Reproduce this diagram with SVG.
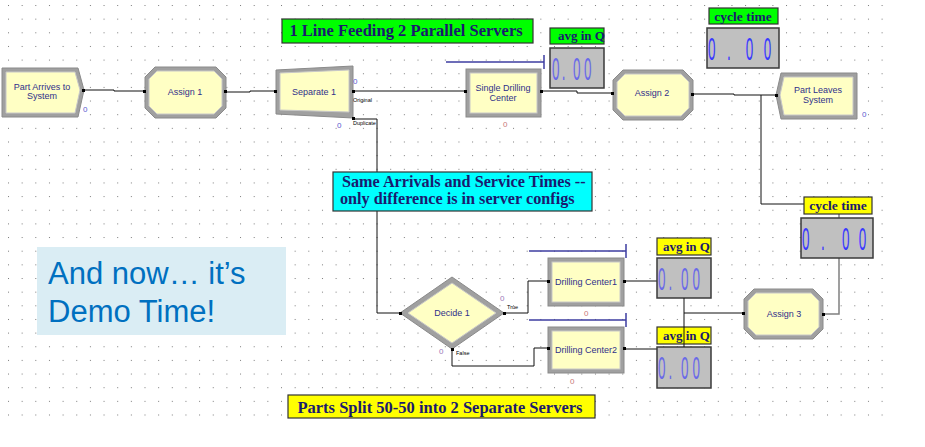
<svg xmlns="http://www.w3.org/2000/svg" width="925" height="447" viewBox="0 0 925 447">
<style>
.bev{fill:#a0a0a0;stroke:#8a8a8a;stroke-width:1}
.in{fill:#ffffc4;stroke:#c8c8c8;stroke-width:1}
.mt{font-family:"Liberation Sans",Arial,sans-serif;font-size:9px;fill:#30308a;text-anchor:middle}
.cnt{font-family:"Liberation Sans",Arial,sans-serif;font-size:8px;fill:#5a5ad0}
.cntp{font-family:"Liberation Sans",Arial,sans-serif;font-size:8px;fill:#c87878}
.lbl{font-family:"Liberation Sans",Arial,sans-serif;font-size:5.5px;fill:#000}
.conn{fill:none;stroke:#111;stroke-width:1}
.conng{fill:none;stroke:#808080;stroke-width:1.5}
.q{fill:none;stroke:#3c3ca0;stroke-width:1.5}
.ttl{font-family:"Liberation Serif","Times New Roman",serif;font-weight:bold;fill:#1a1a6e}
.disp{fill:#c0c0c0;stroke:#3a3a3a;stroke-width:1.5}
.dig{font-family:"Liberation Sans",Arial,sans-serif;font-size:32px;fill:#3a3aff}
.green{fill:#00ff00;stroke:#333;stroke-width:1.2}
.yellow{fill:#ffff00;stroke:#333;stroke-width:1.2}
.dot{fill:#000}
</style>
<defs>
<pattern id="grid" patternUnits="userSpaceOnUse" x="8" y="5" width="13.65" height="13.65">
<rect x="0" y="0" width="1" height="1" fill="#7a7a7a"/>
</pattern>
</defs>
<rect width="925" height="447" fill="#ffffff"/>
<rect x="0" y="0" width="892" height="425" fill="url(#grid)"/>

<g id="connectors">
<polyline class="conn" points="83,90 114,90 114,91 145,91"/>
<polyline class="conn" points="226,92 250,92 250,91 276,91"/>
<polyline class="conn" points="353,91 466,91"/>
<polyline class="conn" points="354,119 377,119 377,313 400,313"/>
<polyline class="conn" points="541,91 577,91 577,93 613,93"/>
<polyline class="conn" points="693,94 734,94 734,95 776,95"/>
<polyline class="conn" points="761,95 761,204 804,204"/>
<polyline class="conn" points="503,313 528,313 528,281 548,281"/>
<polyline class="conn" points="452,349 452,366 534,366 534,348 548,348"/>
<polyline class="conn" points="624,281 657,281"/>
<polyline class="conn" points="624,349 657,349"/>
<polyline class="conn" points="684,313 744,313"/>
<polyline class="conng" points="823,314 839,314 839,258"/>
<line class="conng" x1="839" y1="214" x2="839" y2="218"/>
<line class="q" x1="446" y1="62" x2="544" y2="62"/>
<line class="q" x1="544" y1="55" x2="544" y2="69"/>
<line class="q" x1="529" y1="251" x2="626" y2="251"/>
<line class="q" x1="626" y1="244" x2="626" y2="258"/>
<line class="q" x1="529" y1="320" x2="626" y2="320"/>
<line class="q" x1="626" y1="313" x2="626" y2="327"/>
</g>

<g id="part-arrives">
<polygon class="bev" points="2,68 78,68 84,90 78,117 2,117"/>
<polygon class="in" points="6,72 75,72 80,90 75,113 6,113"/>
<text class="mt" x="42" y="90">Part Arrives to</text>
<text class="mt" x="42" y="99">System</text>
<text class="cnt" x="83" y="112">0</text>
<rect class="dot" x="82" y="89" width="3" height="3"/>
</g>

<g id="assign1">
<polygon class="bev" points="155,67 216,67 226,77 226,108 216,118 155,118 145,108 145,77"/>
<polygon class="in" points="157,71 214,71 222,79 222,106 214,114 157,114 149,106 149,79"/>
<text class="mt" x="185" y="95">Assign 1</text>
<rect class="dot" x="143" y="90" width="3" height="3"/>
<rect class="dot" x="224" y="90" width="3" height="3"/>
</g>

<g id="separate1">
<polygon class="bev" points="276,70 353,66 353,118 276,114"/>
<polygon class="in" points="280,73 349,70 349,112 280,110"/>
<text class="mt" x="314" y="95">Separate 1</text>
<rect class="dot" x="274" y="90" width="3" height="3"/>
<rect class="dot" x="352" y="90" width="3" height="3"/>
<rect class="dot" x="352" y="117" width="3" height="3"/>
<text class="cnt" x="353" y="84">0</text>
<text class="lbl" x="353" y="102">Original</text>
<text class="lbl" x="353" y="125">Duplicate</text>
<text class="cnt" x="337" y="128">0</text>
</g>

<g id="single-drilling">
<rect class="bev" x="466" y="69" width="75" height="48"/>
<rect class="in" x="470" y="73" width="67" height="40"/>
<text class="mt" x="503" y="91">Single Drilling</text>
<text class="mt" x="503" y="101">Center</text>
<text class="cntp" x="503" y="127">0</text>
<rect class="dot" x="464" y="90" width="3" height="3"/>
<rect class="dot" x="540" y="90" width="3" height="3"/>
</g>

<g id="assign2">
<polygon class="bev" points="623,70 683,70 693,80 693,110 683,120 623,120 613,110 613,80"/>
<polygon class="in" points="625,74 681,74 689,82 689,108 681,116 625,116 617,108 617,82"/>
<text class="mt" x="652" y="96">Assign 2</text>
<rect class="dot" x="611" y="92" width="3" height="3"/>
<rect class="dot" x="691" y="93" width="3" height="3"/>
</g>

<g id="part-leaves">
<polygon class="bev" points="781,73 857,73 857,119 781,119 776,95"/>
<polygon class="in" points="784,77 853,77 853,115 784,115 780,95"/>
<text class="mt" x="818" y="93">Part Leaves</text>
<text class="mt" x="818" y="103">System</text>
<text class="cnt" x="862" y="117">0</text>
<rect class="dot" x="775" y="94" width="3" height="3"/>
</g>

<g id="decide1">
<polygon class="bev" points="400,313 452,277 504,313 452,349"/>
<polygon class="in" points="408,313 452,283 496,313 452,343"/>
<text class="mt" x="452" y="316">Decide 1</text>
<rect class="dot" x="399" y="312" width="3" height="3"/>
<rect class="dot" x="503" y="312" width="3" height="3"/>
<rect class="dot" x="451" y="348" width="3" height="3"/>
<text class="cntp" x="500" y="301" style="fill:#9a78b8">0</text>
<text class="lbl" x="507" y="309">True</text>
<text class="cntp" x="439" y="354" style="fill:#9a78b8">0</text>
<text class="lbl" x="456" y="355">False</text>
</g>

<g id="drilling-center1">
<rect class="bev" x="548" y="258" width="76" height="48"/>
<rect class="in" x="552" y="262" width="68" height="40"/>
<text class="mt" x="586" y="285">Drilling Center1</text>
<text class="cntp" x="584" y="316">0</text>
<rect class="dot" x="547" y="280" width="3" height="3"/>
<rect class="dot" x="623" y="280" width="3" height="3"/>
</g>

<g id="drilling-center2">
<rect class="bev" x="548" y="327" width="76" height="46"/>
<rect class="in" x="552" y="331" width="68" height="38"/>
<text class="mt" x="586" y="353">Drilling Center2</text>
<text class="cntp" x="570" y="384">0</text>
<rect class="dot" x="547" y="347" width="3" height="3"/>
<rect class="dot" x="623" y="347" width="3" height="3"/>
</g>

<g id="assign3">
<polygon class="bev" points="754,289 813,289 823,299 823,329 813,339 754,339 744,329 744,299"/>
<polygon class="in" points="756,293 811,293 819,301 819,327 811,335 756,335 748,327 748,301"/>
<text class="mt" x="784" y="317">Assign 3</text>
<rect class="dot" x="742" y="312" width="3" height="3"/>
<rect class="dot" x="822" y="313" width="3" height="3"/>
</g>

<g id="title">
<rect class="green" x="282" y="19" width="251" height="24"/>
<text class="ttl" x="406" y="36" font-size="16.5" text-anchor="middle">1 Line Feeding 2 Parallel Servers</text>
</g>

<g id="avgq-top">
<rect class="green" x="550" y="28" width="54" height="16"/>
<text class="ttl" x="558" y="40" font-size="13">avg in Q</text>
<rect class="disp" x="550" y="48" width="54" height="40"/>
<text class="dig" transform="translate(552,80) scale(0.42,1)" x="0 23 50 76" style="fill:#6a6ae8">0.00</text>
</g>

<g id="cycle-top">
<rect class="green" x="709" y="8" width="69" height="16"/>
<text class="ttl" x="743" y="21" font-size="13.5" text-anchor="middle">cycle time</text>
<rect class="disp" x="707" y="28" width="72" height="40"/>
<text class="dig" transform="translate(708,60) scale(0.42,1)" x="0 45 90 133">0.00</text>
</g>

<g id="note-cyan">
<rect x="333" y="172" width="259" height="39" fill="#00ffff" stroke="#333" stroke-width="1.2"/>
<text class="ttl" x="342" y="187" font-size="16.2">Same Arrivals and Service Times --</text>
<text class="ttl" x="340" y="204" font-size="16.2">only difference is in server configs</text>
</g>

<g id="demo">
<rect x="37" y="247" width="249" height="88" fill="#daedf4"/>
<text x="48" y="284" font-family="'Liberation Sans',Arial,sans-serif" font-size="31" fill="#0070c0">And now… it’s</text>
<text x="48" y="322" font-family="'Liberation Sans',Arial,sans-serif" font-size="31" fill="#0070c0">Demo Time!</text>
</g>

<g id="avgq-1">
<rect class="yellow" x="657" y="238" width="54" height="17"/>
<text class="ttl" x="663" y="251" font-size="13">avg in Q</text>
<rect class="disp" x="657" y="258" width="54" height="40"/>
<text class="dig" transform="translate(658,290) scale(0.42,1)" x="0 25 55 82" style="fill:#6a6ae8">0.00</text>
</g>

<g id="avgq-2">
<rect class="yellow" x="657" y="327" width="54" height="17"/>
<text class="ttl" x="663" y="340" font-size="13">avg in Q</text>
<rect class="disp" x="657" y="347" width="54" height="41"/>
<text class="dig" transform="translate(658,379) scale(0.42,1)" x="0 25 55 82" style="fill:#6a6ae8">0.00</text>
</g>

<g id="connector-q">
<line class="conn" x1="684" y1="298" x2="684" y2="347"/>
</g>

<g id="cycle-bottom">
<rect class="yellow" x="804" y="197" width="68" height="17"/>
<text class="ttl" x="838" y="210" font-size="13.5" text-anchor="middle">cycle time</text>
<rect class="disp" x="801" y="218" width="72" height="40"/>
<text class="dig" transform="translate(802,250) scale(0.42,1)" x="0 45 95 135">0.00</text>
</g>

<g id="note-yellow">
<rect class="yellow" x="288" y="395" width="307" height="23"/>
<text class="ttl" x="440" y="413" font-size="16.5" text-anchor="middle">Parts Split 50-50 into 2 Separate Servers</text>
</g>
</svg>
